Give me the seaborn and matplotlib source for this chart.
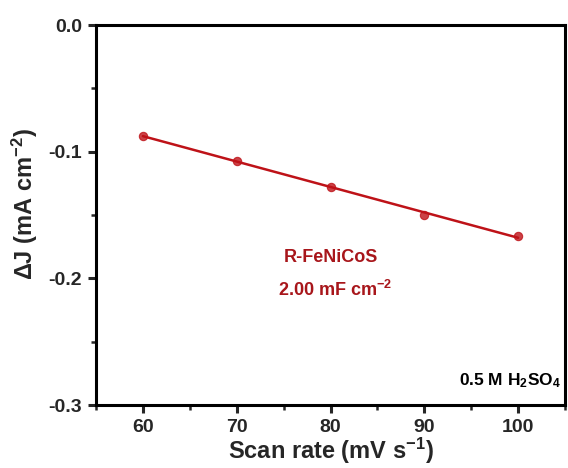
import matplotlib
matplotlib.use("Agg")
import matplotlib.pyplot as plt
import seaborn as sns
import pandas as pd
from matplotlib.ticker import MultipleLocator

# Scan rate (mV/s) and current density difference (mA/cm^2)
scan_rate = [60, 70, 80, 90, 100]
delta_j = [-0.0876, -0.1074, -0.1277, -0.1500, -0.1666]
sample_name = "R-FeNiCoS"
capacitance_label = "2.00 mF cm$^{-2}$"
electrolyte_label = "0.5 M H$_2$SO$_4$"

df = pd.DataFrame({"scan_rate": scan_rate, "delta_j": delta_j})

sns.set_style("ticks")
plt.rcParams["font.family"] = ["Liberation Sans", "DejaVu Sans"]
plt.rcParams["font.weight"] = "bold"
plt.rcParams["mathtext.default"] = "regular"

line_color = "#be1218"
text_color = "#a8161b"

fig = plt.figure(figsize=(5.68, 4.68), dpi=100)
ax = fig.add_axes([96 / 568, 63 / 468, (565 - 96) / 568, (405 - 25) / 468])

sns.regplot(data=df, x="scan_rate", y="delta_j", ax=ax, ci=None,
            color=line_color,
            scatter_kws={"s": 36, "edgecolor": line_color, "linewidths": 0.8, "zorder": 3},
            line_kws={"lw": 1.8})

ax.set_xlim(55, 105)
ax.set_ylim(-0.3, 0.0)
ax.xaxis.set_major_locator(MultipleLocator(10))
ax.xaxis.set_minor_locator(MultipleLocator(5))
ax.yaxis.set_major_locator(MultipleLocator(0.1))
ax.yaxis.set_minor_locator(MultipleLocator(0.05))

ax.set_xticks([60, 70, 80, 90, 100])
ax.set_yticks([0.0, -0.1, -0.2, -0.3])
ax.set_yticklabels(["0.0", "-0.1", "-0.2", "-0.3"])

for side in ["top", "right", "bottom", "left"]:
    ax.spines[side].set_visible(True)
    ax.spines[side].set_linewidth(2.2)
    ax.spines[side].set_color("black")

ax.tick_params(axis="both", which="major", direction="out", length=6, width=2.2,
               labelsize=14, pad=4)
ax.tick_params(axis="both", which="minor", direction="out", length=3.5, width=1.8)
for lab in ax.get_xticklabels() + ax.get_yticklabels():
    lab.set_fontweight("bold")

ax.set_xlabel("Scan rate (mV s$^{-1}$)", fontsize=17, fontweight="bold", labelpad=0)
ax.set_ylabel("ΔJ (mA cm$^{-2}$)", fontsize=17, fontweight="bold")
ax.yaxis.set_label_coords(-0.12, 0.53)

ax.text(80.0, -0.1835, sample_name, color=text_color, fontsize=13,
        fontweight="bold", ha="center", va="center")
ax.text(80.5, -0.2095, capacitance_label, color=text_color, fontsize=13,
        fontweight="bold", ha="center", va="center")
ax.text(104.6, -0.2805, electrolyte_label, color="black", fontsize=12.5,
        fontweight="bold", ha="right", va="center")

fig.savefig("out.png", dpi=100)
